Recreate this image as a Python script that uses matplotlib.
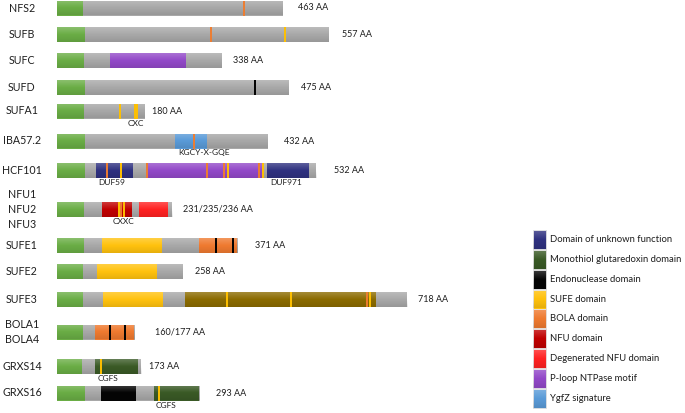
import numpy as np
import matplotlib
matplotlib.use("Agg")
import matplotlib.pyplot as plt
from matplotlib.patches import Rectangle

plt.rcParams['font.family'] = ['Lato', 'DejaVu Sans']

# protein data (lengths and positions in amino acids)
names = ['NFS2', 'SUFB', 'SUFC', 'SUFD', 'SUFA1', 'IBA57.2', 'HCF101',
         'NFU1\nNFU2\nNFU3', 'SUFE1', 'SUFE2', 'SUFE3', 'BOLA1\nBOLA4',
         'GRXS14', 'GRXS16']
lengths = [463, 557, 338, 475, 180, 432, 532, 236, 371, 258, 718, 160, 173, 293]
aa_labels = ['463 AA', '557 AA', '338 AA', '475 AA', '180 AA', '432 AA', '532 AA',
             '231/235/236 AA', '371 AA', '258 AA', '718 AA', '160/177 AA',
             '173 AA', '293 AA']
transit_end = [54, 57, 55, 57, 55, 57, 57, 55, 55, 54, 54, 53, 51, 57]

# (start, end, domain type)
domains = [
    [],
    [],
    [(109, 264, 'ploop')],
    [],
    [],
    [(242, 307, 'ygfz')],
    [(81, 155, 'duf'), (183, 420, 'ploop'), (430, 517, 'duf')],
    [(93, 153, 'nfu'), (169, 228, 'dnfu')],
    [(92, 215, 'sufe'), (292, 370, 'bola')],
    [(82, 205, 'sufe')],
    [(95, 218, 'sufe'), (263, 654, 'olive')],
    [(78, 158, 'bola')],
    [(78, 167, 'grx')],
    [(90, 163, 'endo'), (199, 292, 'grx')],
]

# (position, colour key) of single residue marks
sites = [
    [(384, 'o')],
    [(316, 'o'), (468, 'y')],
    [],
    [(406, 'k')],
    [(129, 'y'), (160, 'y'), (164, 'y')],
    [(280, 'o')],
    [(102, 'o'), (131, 'y'), (185, 'o'), (307, 'o'), (343, 'o'), (351, 'y'),
     (414, 'o'), (422, 'y')],
    [(127, 'y'), (132, 'o'), (137, 'y')],
    [(326, 'k'), (360, 'k')],
    [],
    [(348, 'y'), (481, 'y'), (635, 'o'), (642, 'y')],
    [(109, 'k'), (140, 'k')],
    [(90, 'y')],
    [(209, 'y')],
]

# motif labels under bars: (row, position, text)
motifs = [(4, 162, 'CXC'), (5, 302, 'KGCY-X-GQE'), (6, 112, 'DUF59'),
          (6, 470, 'DUF971'), (7, 137, 'CXXC'), (12, 104, 'CGFS'),
          (13, 223, 'CGFS')]

legend_keys = ['duf', 'grx', 'endo', 'sufe', 'bola', 'nfu', 'dnfu', 'ploop', 'ygfz']
legend_labels = ['Domain of unknown function', 'Monothiol glutaredoxin domain',
                 'Endonuclease domain', 'SUFE domain', 'BOLA domain', 'NFU domain',
                 'Degenerated NFU domain', 'P-loop NTPase motif', 'YgfZ signature']

colors = {'gray': '#a8a8a8', 'transit': '#6aad45', 'duf': '#2f3180',
          'grx': '#3a5a26', 'endo': '#050505', 'sufe': '#ffc20e',
          'bola': '#ef7a30', 'nfu': '#c00000', 'dnfu': '#ff2222',
          'ploop': '#9248c8', 'ygfz': '#5a9bd8', 'olive': '#8b6b00',
          'o': '#ed7d31', 'y': '#ffc000', 'k': '#000000'}

# layout (pixels)
W, H = 685, 413
X0 = 57
PX = 0.4875          # pixels per amino acid
row_y = [8, 34.5, 60.5, 87.5, 111, 141, 170.5, 209.5, 245.5, 271.5, 299.5,
         332, 366.5, 393]
bar_h = 15
label_gap = [15, 13, 11, 12, 7, 16, 18, 11, 17, 12, 11, 20, 8, 16]


def px2aa(px):
    return (px - X0) / PX


fig = plt.figure(figsize=(W / 100, H / 100), dpi=100)
ax = fig.add_axes([0, 0, 1, 1])

# shading used on every bar (light top, slightly darker bottom)
t = np.linspace(0, 1, 40)
shade = np.zeros((40, 1, 4))
top = t < 0.5
shade[top, 0, :3] = 1.0
shade[top, 0, 3] = 0.22 * (1 - 2 * t[top])
shade[~top, 0, 3] = 0.10 * (2 * t[~top] - 1)

for i, name in enumerate(names):
    y = row_y[i]
    L = lengths[i]
    ax.barh(y, L, height=bar_h, left=0, color=colors['gray'], zorder=2)
    ax.barh(y, transit_end[i], height=bar_h, left=0, color=colors['transit'], zorder=2)
    for s, e, k in domains[i]:
        ax.barh(y, e - s, height=bar_h, left=s, color=colors[k], zorder=2)
    ax.imshow(shade, extent=[0, L, y + bar_h / 2, y - bar_h / 2],
              aspect='auto', interpolation='bilinear', zorder=3)
    for p, k in sites[i]:
        ax.vlines(p, y - bar_h / 2, y + bar_h / 2, color=colors[k], lw=1.4, zorder=4)
    ax.text(px2aa(22), y, name, ha='center', va='center', fontsize=7.7,
            linespacing=1.4, color='#1e1e1e')
    ax.text(L + label_gap[i] / PX, y, aa_labels[i], ha='left', va='center',
            fontsize=6.5, color='#1e1e1e')

for r, p, txt in motifs:
    ax.text(p, row_y[r] + bar_h / 2 + 1, txt, ha='center', va='top',
            fontsize=6.0, color='#1e1e1e')

# legend
leg_x, leg_y0, leg_dy = 532.5, 239.3, 19.9
for j, k in enumerate(legend_keys):
    yc = leg_y0 + j * leg_dy
    ax.add_patch(Rectangle((px2aa(leg_x), yc - 9.5), 13 / PX, 19,
                           facecolor=colors[k], edgecolor='#e0e0e0', lw=0.6, zorder=2))
    ax.imshow(shade, extent=[px2aa(leg_x), px2aa(leg_x + 13), yc + 9.5, yc - 9.5],
              aspect='auto', interpolation='bilinear', zorder=3)
    ax.text(px2aa(leg_x + 18), yc, legend_labels[j], ha='left', va='center',
            fontsize=6.8, color='#1e1e1e')

ax.set_xlim(px2aa(0), px2aa(W))
ax.set_ylim(H, 0)
ax.axis('off')

fig.savefig('out.png', dpi=100, facecolor='white')
